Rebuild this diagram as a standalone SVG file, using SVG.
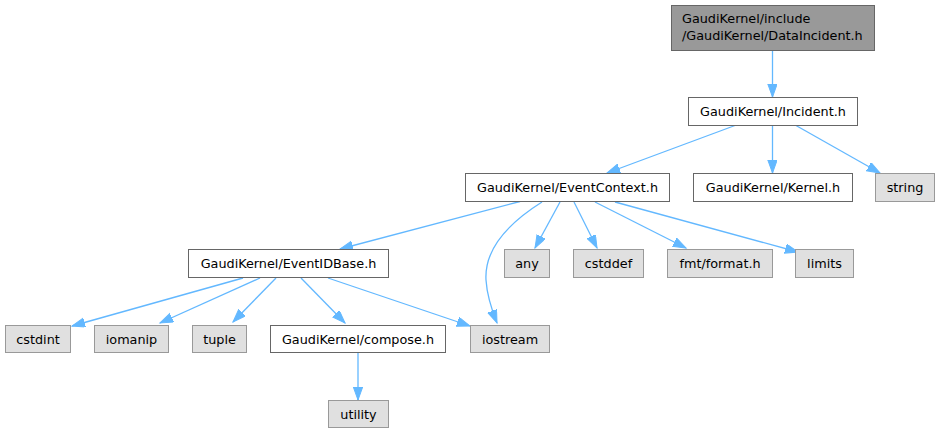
<svg xmlns="http://www.w3.org/2000/svg" width="939" height="434" viewBox="0 0 939 434">
<style>
  text { font-family: "DejaVu Sans", "Liberation Sans", sans-serif; font-size: 12.8px; fill: #000; }
  .n rect { fill: #ffffff; stroke: #666666; stroke-width: 1; }
  .s rect { fill: #e0e0e0; stroke: #999999; stroke-width: 1; }
  .r rect { fill: #999999; stroke: #666666; stroke-width: 1; }
  .c { text-anchor: middle; }
  #edges path { fill: none; stroke: #63b8ff; stroke-width: 1.3; marker-end: url(#ah); }
</style>
<defs>
  <marker id="ah" markerUnits="userSpaceOnUse" markerWidth="15" markerHeight="11" refX="13" refY="4.7" orient="auto" viewBox="0 0 15 11">
    <path d="M0,0 L13,4.7 L0,9.4 z" fill="#63b8ff" stroke="#63b8ff" stroke-width="1"/>
  </marker>
</defs>
<rect width="939" height="434" fill="#ffffff"/>
<g id="edges">
  <path d="M772.5,50.5 L772.5,97"/>
  <path d="M735,125.5 L607,173"/>
  <path d="M772.5,125.5 L772.5,173"/>
  <path d="M796,125.5 L880,173"/>
  <path d="M520,201.5 L340,249"/>
  <path d="M542,202 C515,219 484,245 486,280 C487,296 491,308 497,323"/>
  <path d="M560,202 L535,248"/>
  <path d="M574,202 L597,248"/>
  <path d="M595,202 L686,248"/>
  <path d="M615,202 L798,252"/>
  <path d="M243,278 L72,326"/>
  <path d="M260,278 L160,323"/>
  <path d="M276,278 L233,322"/>
  <path d="M301,278 L345,323"/>
  <path d="M328,278 L470,326"/>
  <path d="M358,352.5 L358,400"/>
</g>
<g id="node_dataincident" class="r">
  <rect x="671.5" y="5.5" width="203" height="45"/>
  <text x="682" y="23">GaudiKernel/include</text>
  <text x="682" y="40">/GaudiKernel/DataIncident.h</text>
</g>
<g id="node_incident" class="n">
  <rect x="688.5" y="97.5" width="169" height="28"/>
  <text class="c" x="773" y="116">GaudiKernel/Incident.h</text>
</g>
<g id="node_eventcontext" class="n">
  <rect x="465.5" y="173.5" width="204" height="28"/>
  <text class="c" x="567.5" y="192">GaudiKernel/EventContext.h</text>
</g>
<g id="node_kernel" class="n">
  <rect x="693.5" y="173.5" width="159" height="28"/>
  <text class="c" x="773" y="192">GaudiKernel/Kernel.h</text>
</g>
<g id="node_string" class="s">
  <rect x="875.5" y="173.5" width="59" height="28"/>
  <text class="c" x="905" y="192">string</text>
</g>
<g id="node_eventidbase" class="n">
  <rect x="188.5" y="249.5" width="200" height="28"/>
  <text class="c" x="288.5" y="268">GaudiKernel/EventIDBase.h</text>
</g>
<g id="node_any" class="s">
  <rect x="504.5" y="249.5" width="45" height="28"/>
  <text class="c" x="527" y="268">any</text>
</g>
<g id="node_cstddef" class="s">
  <rect x="573.5" y="249.5" width="70" height="28"/>
  <text class="c" x="608.5" y="268">cstddef</text>
</g>
<g id="node_fmt" class="s">
  <rect x="667.5" y="249.5" width="105" height="28"/>
  <text class="c" x="720" y="268">fmt/format.h</text>
</g>
<g id="node_limits" class="s">
  <rect x="795.5" y="249.5" width="58" height="28"/>
  <text class="c" x="824.5" y="268">limits</text>
</g>
<g id="node_cstdint" class="s">
  <rect x="5.5" y="325.5" width="65" height="27"/>
  <text class="c" x="38" y="343.5">cstdint</text>
</g>
<g id="node_iomanip" class="s">
  <rect x="94.5" y="325.5" width="74" height="27"/>
  <text class="c" x="131.5" y="343.5">iomanip</text>
</g>
<g id="node_tuple" class="s">
  <rect x="192.5" y="325.5" width="54" height="27"/>
  <text class="c" x="219.5" y="343.5">tuple</text>
</g>
<g id="node_compose" class="n">
  <rect x="270.5" y="325.5" width="175" height="27"/>
  <text class="c" x="358" y="343.5">GaudiKernel/compose.h</text>
</g>
<g id="node_iostream" class="s">
  <rect x="470.5" y="325.5" width="79" height="27"/>
  <text class="c" x="510" y="343.5">iostream</text>
</g>
<g id="node_utility" class="s">
  <rect x="328.5" y="400.5" width="60" height="27"/>
  <text class="c" x="358.5" y="419">utility</text>
</g>
</svg>
